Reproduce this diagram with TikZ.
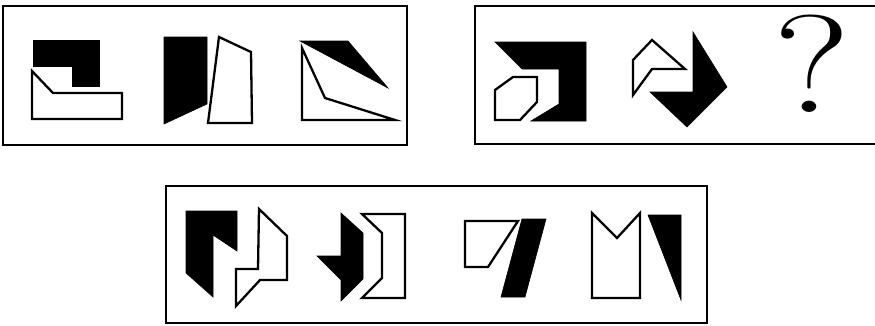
\documentclass[tikz,border=0pt]{standalone}
\usepackage{fontspec}
\begin{document}
\begin{tikzpicture}[x=1pt,y=-1pt,
  frame/.style={draw=black,line width=2.8pt},
  blk/.style={fill=black,draw=black,line width=0.6pt,line join=miter},
  wht/.style={fill=white,draw=black,line width=2.3pt,line join=miter}]
\useasboundingbox (0,0) rectangle (875,325);
\begin{scope}
\clip (0,0) rectangle (875,325);
% frames
\draw[frame] (3,6) rectangle (407,145);
\draw[frame] (475,6) rectangle (890,144);
\draw[frame] (166,186) rectangle (707,323);
\end{scope}
% box 1
\draw[blk] (33,40) -- (99,40) -- (99,86) -- (72,86) -- (72,66) -- (33,66) -- cycle;
\draw[wht] (32,71) -- (53,93) -- (122,93) -- (122,119) -- (32,119) -- cycle;
\draw[blk] (164,37) -- (207,37) -- (207,104) -- (164,124) -- cycle;
\draw[wht] (219,37) -- (251,52) -- (252,123) -- (208,123) -- cycle;
\draw[blk] (300,41) -- (348,41) -- (388,88) -- cycle;
\draw[wht] (302,48) -- (325,98) -- (395,120) -- (302,120) -- cycle;
% box 2
\draw[blk] (495,42) -- (586,42) -- (586,121) -- (531,121) -- (559,104) -- (559,69) -- (522,69) -- cycle;
\draw[wht] (495,90) -- (513,77) -- (537,77) -- (537,102) -- (520,120) -- (495,120) -- cycle;
\draw[wht] (652,40) -- (685,69) -- (652,69) -- (633,95) -- (633,60) -- cycle;
\draw[blk] (693,32) -- (727,87) -- (687,127) -- (650,92) -- (693,92) -- cycle;
\node[inner sep=0pt,anchor=base] (q) at (812,112) {\scalebox{1.28}[1]{\fontsize{139}{139}\selectfont ?}};
% box 3
\draw[blk] (186,211) -- (237,211) -- (237,251) -- (213,235) -- (213,297) -- (186,273) -- cycle;
\draw[wht] (259,209) -- (287,236) -- (287,280) -- (260,280) -- (236,306) -- (236,269) -- (258,269) -- cycle;
\draw[blk] (341,213) -- (363,233) -- (363,279) -- (341,301) -- (341,280) -- (317,256) -- (341,256) -- cycle;
\draw[wht] (362,214) -- (405,214) -- (405,298) -- (362,298) -- (382,278) -- (382,233) -- cycle;
\draw[wht] (465,221) -- (518,221) -- (488,267) -- (465,267) -- cycle;
\draw[blk] (522,219) -- (546,219) -- (525,297) -- (501,297) -- cycle;
\draw[wht] (592,213) -- (617,238) -- (640,213) -- (640,298) -- (592,298) -- cycle;
\draw[blk] (648,215) -- (681,215) -- (681,300) -- cycle;
\end{tikzpicture}
\end{document}
